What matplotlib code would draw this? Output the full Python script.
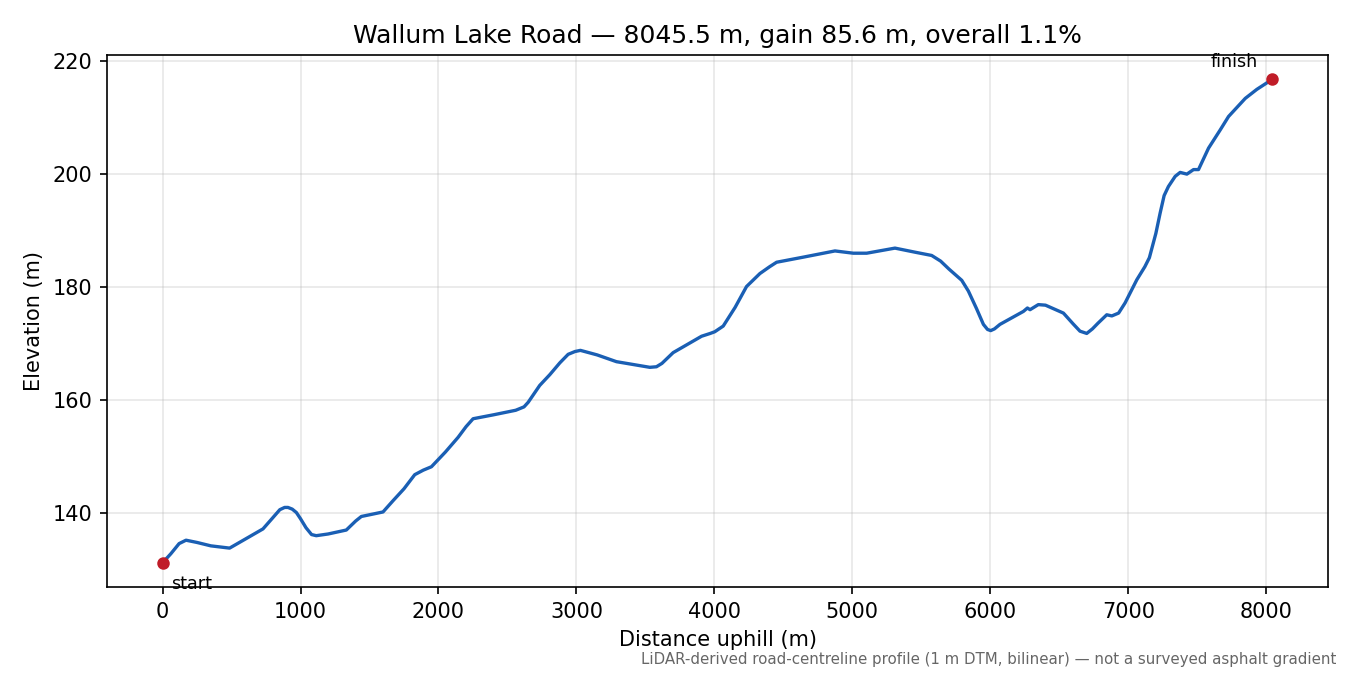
import matplotlib
matplotlib.use("Agg")
import matplotlib.pyplot as plt
import numpy as np

# distance along the road (m) and elevation (m)
dist = [0, 60, 120, 170, 250, 350, 486, 600, 728, 800, 850, 885, 909, 940,
        970, 1000, 1040, 1080, 1114, 1200, 1332, 1400, 1441, 1520, 1598,
        1671, 1750, 1828, 1890, 1949, 2050, 2142, 2200, 2251, 2400, 2560,
        2620, 2650, 2734, 2807, 2880, 2940, 2990, 3029, 3150, 3290, 3532,
        3580, 3620, 3701, 3907, 3970, 4003, 4064, 4150, 4233, 4330, 4400,
        4451, 4644, 4874, 5007, 5104, 5309, 5450, 5575, 5640, 5700, 5793,
        5841, 5900, 5950, 5980, 6003, 6030, 6070, 6240, 6269, 6288, 6348,
        6400, 6530, 6600, 6650, 6699, 6740, 6780, 6844, 6881, 6930, 6977,
        7062, 7120, 7153, 7200, 7231, 7260, 7291, 7340, 7376, 7425, 7473,
        7509, 7582, 7666, 7727, 7848, 7932, 8045.5]
elev = [131.2, 132.8, 134.6, 135.2, 134.8, 134.2, 133.8, 135.4, 137.2, 139.2,
        140.6, 141.0, 141.0, 140.7, 140.1, 139.0, 137.4, 136.2, 136.0, 136.3,
        137.0, 138.6, 139.4, 139.8, 140.2, 142.2, 144.3, 146.8, 147.6, 148.2,
        150.8, 153.4, 155.3, 156.7, 157.4, 158.2, 158.8, 159.6, 162.6, 164.5,
        166.6, 168.1, 168.6, 168.8, 168.0, 166.8, 165.8, 165.9, 166.5, 168.4,
        171.3, 171.8, 172.1, 173.1, 176.4, 180.1, 182.4, 183.6, 184.4, 185.3,
        186.4, 186.0, 186.0, 186.9, 186.2, 185.6, 184.6, 183.2, 181.2, 179.3,
        176.2, 173.4, 172.5, 172.3, 172.6, 173.4, 175.7, 176.3, 176.0, 176.9,
        176.8, 175.4, 173.5, 172.2, 171.8, 172.6, 173.6, 175.1, 174.9, 175.4,
        177.2, 181.3, 183.6, 185.2, 189.5, 193.1, 196.2, 197.8, 199.6, 200.3,
        200.0, 200.8, 200.8, 204.6, 207.8, 210.2, 213.4, 215.0, 216.8]

title = "Wallum Lake Road \u2014 8045.5 m, gain 85.6 m, overall 1.1%"
note = ("LiDAR-derived road-centreline profile (1 m DTM, bilinear) \u2014 "
        "not a surveyed asphalt gradient")

fig, ax = plt.subplots(figsize=(9, 4.5), dpi=150)
fig.subplots_adjust(left=0.0793, right=0.9837, top=0.9185, bottom=0.1304)

ax.plot(dist, elev, color="#1a5fb4", lw=1.6)
ax.plot([dist[0], dist[-1]], [elev[0], elev[-1]], "o", color="#c01c28",
        ms=5, zorder=3)
ax.annotate("start", (dist[0], elev[0]), xytext=(4, -6),
            textcoords="offset points", ha="left", va="top", fontsize=8.4)
ax.annotate("finish", (dist[-1], elev[-1]), xytext=(-7, 4),
            textcoords="offset points", ha="right", va="bottom", fontsize=8.4)

ax.set_title(title)
ax.set_xlabel("Distance uphill (m)")
ax.set_ylabel("Elevation (m)")
ax.grid(True, alpha=0.3)

fig.text(0.99, 0.012, note, ha="right", va="bottom", fontsize=7.2,
         color="0.4")

fig.savefig("out.png", dpi=150)
